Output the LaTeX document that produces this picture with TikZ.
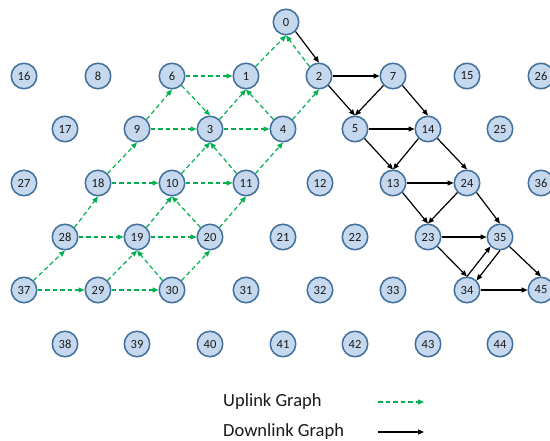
\documentclass[tikz,border=0pt]{standalone}
\usepackage{fontspec}
\setmainfont{Carlito}
\usetikzlibrary{arrows.meta}
\definecolor{nodefill}{HTML}{C5D8EE}
\definecolor{nodeline}{HTML}{41719C}
\definecolor{upgreen}{HTML}{00B050}
\definecolor{txt}{HTML}{1A1A1A}
\begin{document}
\begin{tikzpicture}[x=1pt,y=-1pt,
  nd/.style={circle, draw=nodeline, line width=1.5pt, fill=nodefill, minimum size=25.5pt, inner sep=0pt, text=txt, font=\fontsize{12.5}{14}\selectfont},
  up/.style={draw=upgreen, line width=1.2pt, dash pattern=on 4.5pt off 3pt, -{Triangle[length=6pt,width=5pt]}},
  dn/.style={draw=black, line width=1.2pt, -{Triangle[length=6pt,width=5pt]}},
  lg/.style={anchor=west, inner sep=0pt, text=txt, font=\fontsize{18.5}{20}\selectfont}]
\useasboundingbox (0,0) rectangle (550,441);
\node[nd] (0) at (286,22) {0};
\foreach \n/\x in {16/24,8/98,6/172,1/246,2/319,7/393,15/467,26/541}
  \node[nd] (\n) at (\x,76) {\n};
\foreach \n/\x in {17/65,9/137,3/210,4/283,5/355,14/428,25/500}
  \node[nd] (\n) at (\x,129) {\n};
\foreach \n/\x in {27/24,18/98,10/172,11/246,12/320,13/393,24/467,36/541}
  \node[nd] (\n) at (\x,183) {\n};
\foreach \n/\x in {28/65,19/137,20/210,21/283,22/355,23/428,35/500}
  \node[nd] (\n) at (\x,237) {\n};
\foreach \n/\x in {37/24,29/98,30/172,31/246,32/320,33/393,34/467,45/541}
  \node[nd] (\n) at (\x,290) {\n};
\foreach \n/\x in {38/65,39/137,40/210,41/283,42/355,43/428,44/500}
  \node[nd] (\n) at (\x,344) {\n};
% uplink
\foreach \a/\b in {6/1,9/3,3/4,18/10,10/11,28/19,19/20,37/29,29/30}
  \draw[up] (\a) -- (\b);
\foreach \a/\b in {1/0,3/1,9/6,4/2,18/9,10/3,11/4,28/18,19/10,20/11,37/28,29/19,30/20}
  \draw[up] (\a.north east) -- (\b.south);
\foreach \a/\b in {2/0,4/1,11/3,20/10,30/19}
  \draw[up] (\a.north west) -- (\b.south);
\draw[up] (6.south east) -- (3.north);
% downlink
\foreach \a/\b in {2/7,5/14,13/24,23/35,34/45}
  \draw[dn] (\a) -- (\b);
\foreach \a/\b in {0/2,2/5,7/14,5/13,14/24,13/23,24/35,23/34,35/45}
  \draw[dn] (\a.south east) -- (\b.north);
\foreach \a/\b in {7/5,14/13,24/23}
  \draw[dn] (\a.south west) -- (\b.north);
\draw[dn] (34.north) -- (35.south west);
\draw[dn] (35.south) -- (34.north east);
% legend
\node[lg] (lu) at (223,402) {Uplink Graph};
\node[lg] (ld) at (223,432) {Downlink Graph};
\coordinate (u1) at (378,402);
\coordinate (u2) at (424,402);
\coordinate (d1) at (378,432);
\coordinate (d2) at (424,432);
\draw[up] (u1) -- (u2);
\draw[dn] (d1) -- (d2);
\end{tikzpicture}
\end{document}
